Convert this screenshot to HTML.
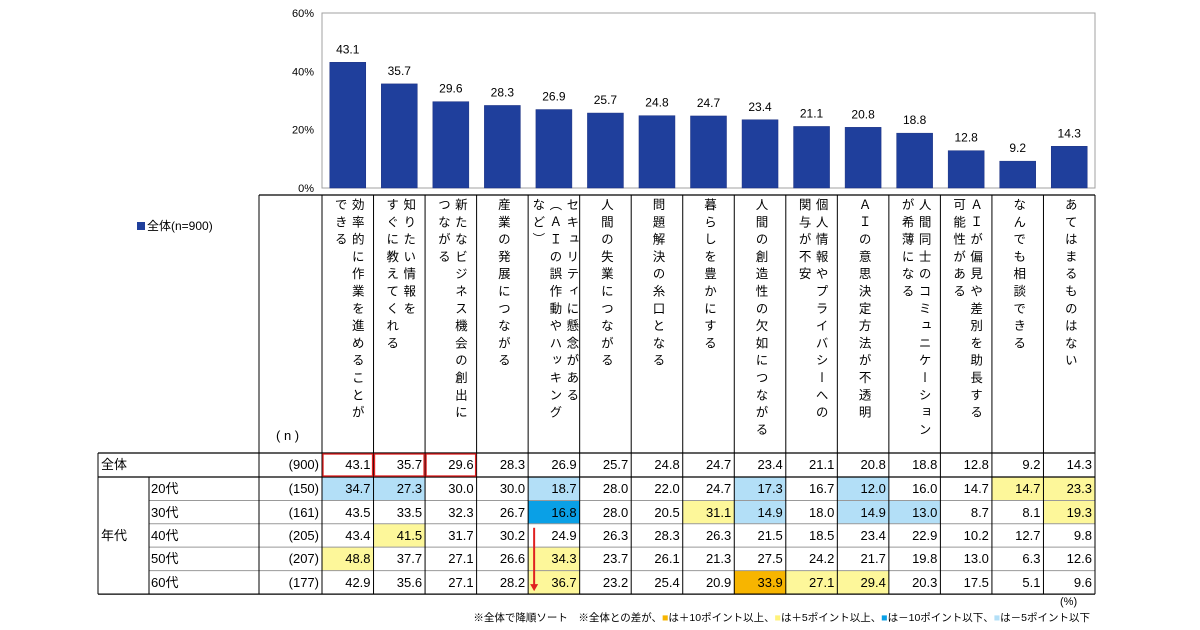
<!DOCTYPE html>
<html><head><meta charset="utf-8">
<style>
body{margin:0;background:#fff;font-family:"Liberation Sans","Noto Sans CJK JP",sans-serif;}
#root{position:relative;width:1200px;height:630px;overflow:hidden;}
.a{position:absolute;}
.vt{position:absolute;writing-mode:vertical-rl;font-size:12.5px;letter-spacing:4.8px;line-height:17px;color:#000;white-space:pre;}
.cell{position:absolute;font-size:13px;text-align:right;box-sizing:border-box;padding-right:3px;line-height:23px;color:#000;}
#svg{z-index:5;pointer-events:none;}
</style></head>
<body>
<div id="root">
<svg id="svg" class="a" style="left:0;top:0" width="1200" height="630"></svg>
<div class="a" style="left:137px;top:217px;font-size:12px;"><span style="display:inline-block;width:8px;height:8px;background:#1f3f9c;margin-right:2px"></span>全体(n=900)</div>
<div class="a" style="left:1060px;top:596px;font-size:11px;">(%)</div>
<div class="a" style="right:110px;top:610px;font-size:10.5px;white-space:nowrap;">※全体で降順ソート　※全体との差が、<span style="color:#f7b500">■</span>は＋10ポイント以上、<span style="color:#fff27a">■</span>は＋5ポイント以上、<span style="color:#0aa0e6">■</span>は－10ポイント以下、<span style="color:#b3dff7">■</span>は－5ポイント以下</div>
</div>
<script>
const categories=[["効率的に作業を進めることが","できる"],["知りたい情報を","すぐに教えてくれる"],["新たなビジネス機会の創出に","つながる"],["産業の発展につながる"],["セキュリティに懸念がある","（ＡＩの誤作動やハッキング","など）"],["人間の失業につながる"],["問題解決の糸口となる"],["暮らしを豊かにする"],["人間の創造性の欠如につながる"],["個人情報やプライバシーへの","関与が不安"],["ＡＩの意思決定方法が不透明"],["人間同士のコミュニケーション","が希薄になる"],["ＡＩが偏見や差別を助長する","可能性がある"],["なんでも相談できる"],["あてはまるものはない"]];
const totalValues=[43.1,35.7,29.6,28.3,26.9,25.7,24.8,24.7,23.4,21.1,20.8,18.8,12.8,9.2,14.3];
const ageLabels=["20代","30代","40代","50代","60代"];
const ageN=["(150)","(161)","(205)","(207)","(177)"];
const age20=[34.7,27.3,30.0,30.0,18.7,28.0,22.0,24.7,17.3,16.7,12.0,16.0,14.7,14.7,23.3];
const age30=[43.5,33.5,32.3,26.7,16.8,28.0,20.5,31.1,14.9,18.0,14.9,13.0,8.7,8.1,19.3];
const age40=[43.4,41.5,31.7,30.2,24.9,26.3,28.3,26.3,21.5,18.5,23.4,22.9,10.2,12.7,9.8];
const age50=[48.8,37.7,27.1,26.6,34.3,23.7,26.1,21.3,27.5,24.2,21.7,19.8,13.0,6.3,12.6];
const age60=[42.9,35.6,27.1,28.2,36.7,23.2,25.4,20.9,33.9,27.1,29.4,20.3,17.5,5.1,9.6];
const yTicks=[0,20,40,60];

const NS="http://www.w3.org/2000/svg";
const svg=document.getElementById('svg');
const root=document.getElementById('root');
const X0=322,X1=1095,CW=(X1-X0)/15;
const Y0=188,Y60=13;
function y(v){return Y0-(v/60)*(Y0-Y60);}
function cx(i){return X0+CW*(i+0.5);}
function mk(tag,at){const e=document.createElementNS(NS,tag);for(const k in at)e.setAttribute(k,at[k]);svg.appendChild(e);return e;}
function fmt(v){return v.toFixed(1);}

let f=mk('rect',{x:X0,y:Y60,width:X1-X0,height:Y0-Y60,fill:'none',stroke:'#a0a0a0','stroke-width':1});


yTicks.forEach(t=>{
  const tx=mk('text',{x:X0-8,y:y(t)+4,'text-anchor':'end','font-size':11,'font-family':'Liberation Sans, sans-serif'});
  tx.textContent=t+'%';
  
  
});
totalValues.forEach((v,i)=>{
  const r=mk('rect',{x:cx(i)-18,y:y(v),width:36,height:Y0-y(v),fill:'#1f3f9c',stroke:'#1a2f80','stroke-width':0.5});
  
  
  const t=mk('text',{x:cx(i),y:y(v)-9,'text-anchor':'middle','font-size':12,'font-family':'Liberation Sans, sans-serif'});
  t.textContent=fmt(v);
  
  
});

const rows=[age20,age30,age40,age50,age60];
const HT=195,RT=453,RH=[24,23.5,23.3,23.3,23.5,23.5];
const rowTops=[RT];for(let k=0;k<6;k++)rowTops.push(rowTops[k]+RH[k]);
function color(d){if(d>=10)return '#f7b500';if(d>=5)return '#fdf79a';if(d<=-10)return '#0aa0e6';if(d<=-5)return '#b3dff7';return null;}
function div(cls,st,txt){const d=document.createElement('div');d.className=cls;d.setAttribute('style',st);if(txt!==undefined)d.textContent=txt;root.appendChild(d);return d;}
rows.forEach((arr,r)=>{arr.forEach((v,i)=>{const c=color(v-totalValues[i]);if(c){const b=div('a',`left:${X0+CW*i}px;top:${rowTops[r+1]}px;width:${CW}px;height:${RH[r+1]}px;background:${c}`);

}});});
totalValues.forEach((v,i)=>{const c=div('cell',`left:${X0+CW*i}px;top:${RT}px;width:${CW}px;height:24px`,fmt(v));

});
rows.forEach((arr,r)=>arr.forEach((v,i)=>{const c=div('cell',`left:${X0+CW*i}px;top:${rowTops[r+1]}px;width:${CW}px;height:${RH[r+1]}px`,fmt(v));

}));
let l=div('a','left:101px;top:'+RT+'px;font-size:13px;line-height:24px','全体');


l=div('cell',`left:259px;top:${RT}px;width:63px;height:24px`,'(900)');


l=div('a',`left:101px;top:${rowTops[3]}px;font-size:13px;line-height:23px`,'年代');


l=div('a','left:276px;top:428px;font-size:13px','( n )');


ageLabels.forEach((a,r)=>{
  const e=div('a',`left:151px;top:${rowTops[r+1]}px;font-size:13px;line-height:${RH[r+1]}px`,a);
  
  
  const n=div('cell',`left:259px;top:${rowTops[r+1]}px;width:63px;height:${RH[r+1]}px`,ageN[r]);
  
  
});
categories.forEach((lines,i)=>{
  const h=div('vt',`top:198px;left:${cx(i)-lines.length*8.5}px;width:${lines.length*17}px;`,lines.join('\n'));
  
  
});
function ln(x1,y1,x2,y2,c,w){const e=mk('line',{x1,y1,x2,y2,stroke:c,'stroke-width':w});}
const bot=rowTops[6];
ln(259,HT,X1,HT,'#000',1.3);
ln(98,RT,X1,RT,'#000',1.3);
ln(98,rowTops[1],X1,rowTops[1],'#000',1.3);
for(let k=2;k<6;k++)ln(149,rowTops[k],X1,rowTops[k],'#999',1);
ln(98,bot,X1,bot,'#000',1.3);
ln(98,RT,98,bot,'#000',1);
ln(149,rowTops[1],149,bot,'#000',1);
ln(259,HT,259,bot,'#000',1);
for(let i=0;i<=15;i++)ln(X0+CW*i,HT,X0+CW*i,bot,'#000',1);
for(let i=0;i<3;i++){const r=mk('rect',{x:X0+CW*i+1,y:RT+1,width:CW-2,height:22,fill:'none',stroke:'#e02020','stroke-width':1.3});

}
const ax=X0+CW*4+6;
let ar=mk('line',{x1:ax,y1:rowTops[3]+4,x2:ax,y2:bot-8,stroke:'#e02020','stroke-width':2});


ar=mk('polygon',{points:`${ax-4},${bot-10} ${ax+4},${bot-10} ${ax},${bot-3}`,fill:'#e02020'});


</script>
</body></html>
